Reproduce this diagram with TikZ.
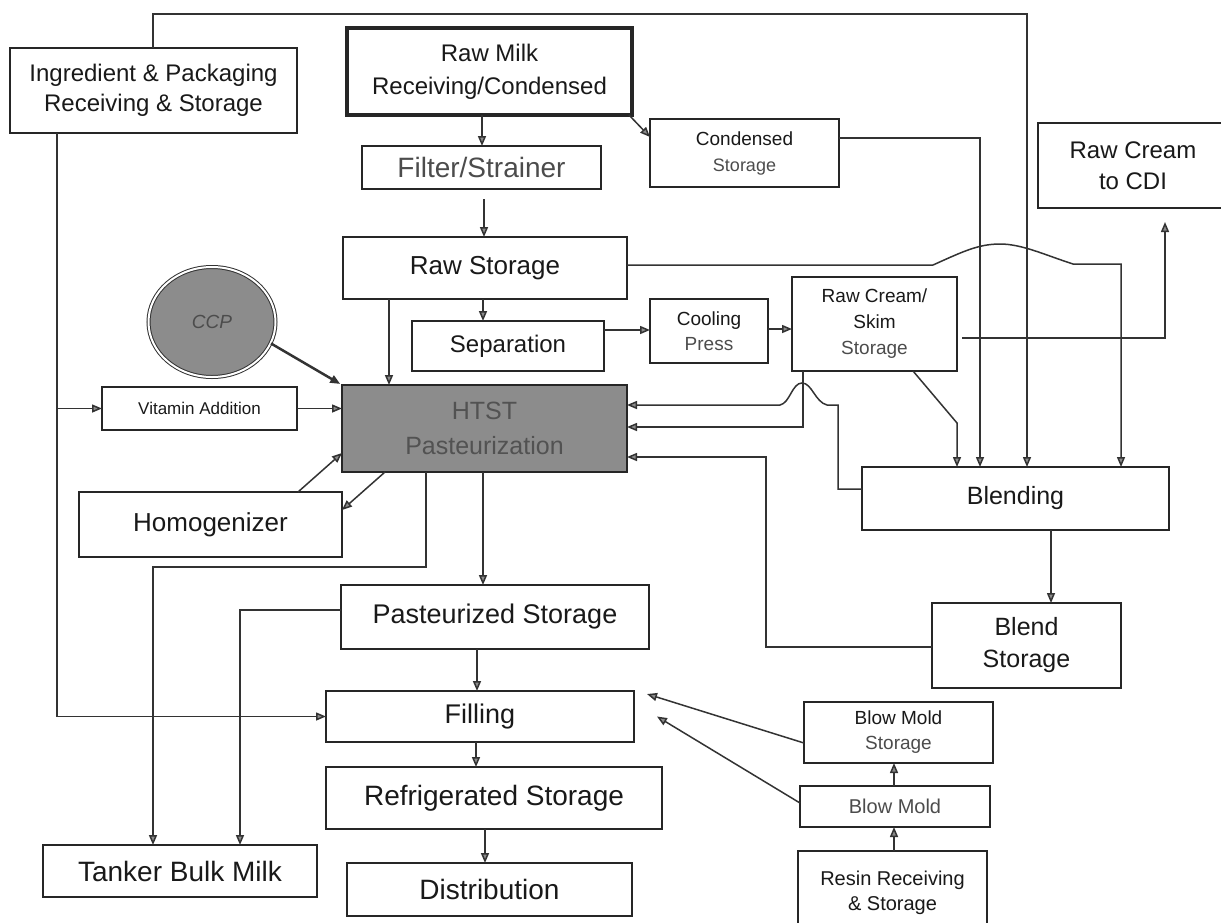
\documentclass[tikz,border=0pt]{standalone}
\usepackage{fontspec}
\setmainfont{Liberation Sans}
\usetikzlibrary{arrows.meta,shapes.geometric}
\newcommand{\myfs}[2]{\fontsize{#1}{#2}\selectfont}
\begin{document}
\begin{tikzpicture}[x=1pt,y=-1pt,
  box/.style={draw=black!85, line width=1.6pt, fill=white, inner sep=0pt, outer sep=0pt, anchor=north west, align=center, text=black!90},
  arr/.style={draw=black!80, line width=1.5pt, -{Triangle[length=10pt,width=8pt,fill=black!45]}},
  ln/.style={draw=black!80, line width=1.5pt},
  soft/.style={text=black!70},
]
\path[use as bounding box, fill=white] (0,0) rectangle (1221,922);

% nodes
\node[box, minimum width=287pt, minimum height=85pt, font=\myfs{24}{30}] (ing) at (10,48) {Ingredient \& Packaging\\Receiving \& Storage};
\node[box, line width=3.5pt, minimum width=285pt, minimum height=87pt, font=\myfs{24}{33}] (rawmilk) at (347,28) {Raw Milk\\Receiving/Condensed};
\node[box, minimum width=239pt, minimum height=43pt, font=\myfs{28}{30}, soft] (filter) at (362,146) {Filter/Strainer};
\node[box, minimum width=189pt, minimum height=68pt, font=\myfs{19}{26}] (cond) at (650,119) {Condensed\\{\myfs{18}{26}\color{black!70}Storage}};
\node[box, minimum width=190pt, minimum height=85pt, font=\myfs{24}{31}] (cdi) at (1038,123) {Raw Cream\\to CDI};
\node[box, minimum width=284pt, minimum height=62pt, font=\myfs{26}{30}] (rawst) at (343,237) {Raw Storage};
\node[box, minimum width=192pt, minimum height=50pt, font=\myfs{24}{30}] (sep) at (412,321) {Separation};
\node[box, minimum width=118pt, minimum height=64pt, font=\myfs{19}{25}] (cool) at (650,299) {Cooling\\{\color{black!70}Press}};
\node[box, minimum width=165pt, minimum height=94pt, font=\myfs{19}{26}] (rcs) at (792,277) {Raw Cream/\\Skim\\{\color{black!70}Storage}};
\node[box, fill=black!45, line width=2pt, minimum width=285pt, minimum height=87pt, font=\myfs{25}{35}, text=black!68] (htst) at (342,385) {HTST\\Pasteurization};
\node[ellipse, draw=black!80, double=white, double distance=2pt, line width=1pt, fill=black!45, minimum width=127pt, minimum height=110pt, inner sep=0pt, font=\myfs{19}{22}\itshape, text=black!70] (ccp) at (212,322) {CCP};
\node[box, line width=2.5pt, minimum width=195pt, minimum height=43pt, font=\myfs{17}{20}] (vit) at (102,387) {Vitamin Addition};
\node[box, minimum width=263pt, minimum height=65pt, font=\myfs{26}{30}] (homog) at (79,492) {Homogenizer};
\node[box, minimum width=308pt, minimum height=64pt, font=\myfs{27}{30}] (past) at (341,585) {Pasteurized Storage};
\node[box, minimum width=308pt, minimum height=51pt, font=\myfs{27}{30}] (fill) at (326,691) {Filling};
\node[box, minimum width=336pt, minimum height=62pt, font=\myfs{28}{30}] (refr) at (326,767) {Refrigerated Storage};
\node[box, minimum width=285pt, minimum height=53pt, font=\myfs{28}{30}] (dist) at (347,863) {Distribution};
\node[box, minimum width=274pt, minimum height=52pt, font=\myfs{28}{30}] (tanker) at (43,845) {Tanker Bulk Milk};
\node[box, minimum width=307pt, minimum height=63pt, font=\myfs{25}{30}] (blend) at (862,467) {Blending};
\node[box, minimum width=189pt, minimum height=85pt, font=\myfs{25}{32}] (blst) at (932,603) {Blend\\Storage};
\node[box, minimum width=189pt, minimum height=61pt, font=\myfs{19}{25}] (bms) at (804,702) {Blow Mold\\{\color{black!70}Storage}};
\node[box, minimum width=190pt, minimum height=41pt, font=\myfs{20}{24}, soft] (bm) at (800,786) {Blow Mold};
\node[box, minimum width=189pt, minimum height=84pt, font=\myfs{20}{25}] (resin) at (798,851) {Resin Receiving\\\& Storage};

% connectors
\draw[arr] (ing.north -| 153,0) |- (1027,14) -- (blend.north -| 1027,0);
\draw[arr] (ing.south -| 57,0) |- (fill.west);
\draw[arr] (vit.west -| 57,0) -- (vit.west);
\draw[arr] (rawmilk.south -| 482,0) -- (filter.north -| 482,0);
\draw[arr] ([xshift=-3pt]rawmilk.south east) -- ([yshift=-18pt]cond.north west);
\draw[arr, shorten <=10pt] (filter.south -| 484,0) -- (rawst.north -| 484,0);
\draw[arr] (cond.east |- 0,138) -| (blend.north -| 980,0);
\draw[arr] (rawst.east |- 0,265) -- (933,265) .. controls (962,252) and (978,244) .. (1000,244) .. controls (1022,244) and (1045,255) .. (1073,264) -- (1121,264) -- (blend.north -| 1121,0);
\draw[arr] (rawst.south -| 483,0) -- (sep.north -| 483,0);
\draw[arr] (rawst.south -| 389,0) -- (htst.north -| 389,0);
\draw[arr] (sep.east |- 0,330) -- (cool.west |- 0,330);
\draw[arr] (cool.east |- 0,329) -- (rcs.west |- 0,329);
\draw[arr, shorten <=5pt, shorten >=14pt] (rcs.east |- 0,338) -| (cdi.south -| 1165,0);
\draw[arr] (rcs.south -| 913,0) -- (957,423) -- (blend.north -| 957,0);
\draw[arr] (rcs.south -| 803,0) |- (htst.east |- 0,427);
\draw[arr] (blend.west |- 0,489) -| (838,405) -- (827,405) .. controls (815,402) and (812,383) .. (802,383) .. controls (792,383) and (790,403) .. (780,405) -- (htst.east |- 0,405);
\draw[arr] (blst.west |- 0,647) -| (766,457) -- (htst.east |- 0,457);
\draw[arr] (blend.south -| 1051,0) -- (blst.north -| 1051,0);
\draw[arr, line width=2.5pt, shorten >=2pt] (ccp.-20) -- (htst.north west);
\draw[arr] (vit.east) -- (htst.west |- vit.east);
\draw[arr] (homog.north -| 298,0) -- (htst.west |- 0,453);
\draw[arr] (htst.south -| 385,0) -- (homog.east |- 0,510);
\draw[arr] (htst.south -| 426,0) |- (153,567) -- (tanker.north -| 153,0);
\draw[arr] (htst.south -| 483,0) -- (past.north -| 483,0);
\draw[arr] (past.west |- 0,610) -| (tanker.north -| 240,0);
\draw[arr] (past.south -| 477,0) -- (fill.north -| 477,0);
\draw[arr] (fill.south -| 476,0) -- (refr.north -| 476,0);
\draw[arr] (refr.south -| 485,0) -- (dist.north -| 485,0);
\draw[arr] (bms.west |- 0,743) -- ([xshift=13pt,yshift=-3pt]fill.north east);
\draw[arr] (bm.west |- 0,803) -- ([xshift=23pt]fill.east);
\draw[arr] (bm.north -| 894,0) -- (bms.south -| 894,0);
\draw[arr] (resin.north -| 894,0) -- (bm.south -| 894,0);
\end{tikzpicture}
\end{document}
